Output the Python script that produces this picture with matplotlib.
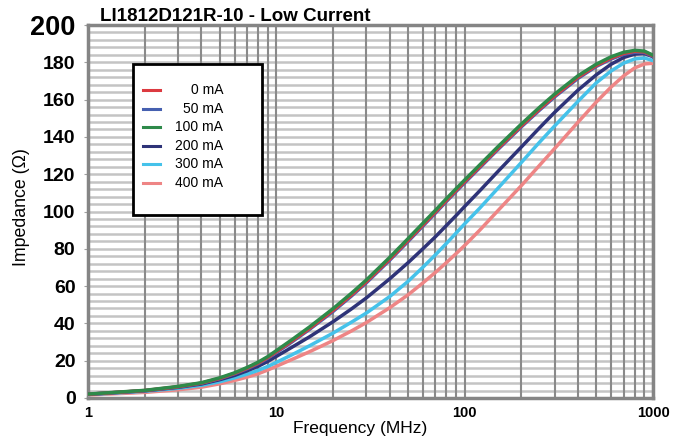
import matplotlib.pyplot as plt
from matplotlib.patches import Rectangle

plt.rcParams['font.family'] = ['Liberation Sans', 'DejaVu Sans']

title = "LI1812D121R-10 - Low Current"

freq = [1, 2, 3, 4, 5, 6, 7, 8, 9, 10, 12, 15, 20, 25, 30, 40, 50, 60, 70, 80, 90,
        100, 120, 150, 200, 250, 300, 400, 500, 600, 700, 800, 900, 1000]

z_0ma = [2.0, 4.0, 6.0, 8.0, 10.5, 13.2, 16.0, 18.7, 21.7, 24.8, 30.3, 37.3, 47.0, 55.2, 62.3, 74.5, 84.5,
         92.8, 99.8, 106.0, 111.3, 116.0, 124.0, 133.8, 146.0, 155.0, 162.0, 172.0, 178.3, 182.3, 184.8,
         185.9, 185.6, 183.5]
z_50ma = [2.0, 3.9, 5.9, 7.9, 10.3, 13.0, 15.7, 18.4, 21.3, 24.4, 29.8, 36.8, 46.4, 54.6, 61.7, 73.9, 83.9,
          92.2, 99.2, 105.4, 110.7, 115.4, 123.4, 133.2, 145.4, 154.4, 161.4, 171.4, 177.8, 181.8, 184.3,
          185.4, 185.2, 183.2]
z_100ma = [2.1, 4.1, 6.2, 8.2, 10.8, 13.5, 16.4, 19.2, 22.2, 25.4, 31.0, 38.1, 47.9, 56.1, 63.2, 75.4, 85.4,
           93.7, 100.7, 106.9, 112.2, 116.9, 124.9, 134.7, 146.9, 155.9, 162.9, 172.8, 179.0, 183.0, 185.4,
           186.4, 186.0, 183.8]
z_200ma = [2.0, 3.9, 5.7, 7.5, 9.8, 12.1, 14.6, 17.0, 19.6, 22.3, 27.0, 32.8, 40.9, 47.7, 53.6, 63.9, 72.5,
           80.0, 86.5, 92.5, 97.8, 102.7, 111.0, 121.4, 134.6, 144.9, 153.1, 165.1, 173.3, 179.0, 182.6,
           184.4, 184.7, 183.0]
z_300ma = [1.8, 3.6, 5.2, 6.8, 8.7, 10.8, 12.8, 14.8, 16.9, 19.1, 23.0, 28.0, 34.8, 40.6, 45.5, 54.4, 62.5,
           70.1, 76.8, 82.9, 88.4, 93.4, 101.7, 112.4, 126.3, 137.2, 145.8, 159.1, 169.0, 175.4, 179.6,
           181.8, 182.3, 180.9]
z_400ma = [1.6, 3.0, 4.4, 5.8, 7.6, 9.4, 11.2, 13.0, 15.0, 17.0, 20.5, 24.8, 30.8, 35.9, 40.4, 48.4, 55.3,
           61.7, 67.4, 72.6, 77.4, 81.8, 89.9, 100.4, 113.9, 124.8, 133.7, 147.9, 158.7, 166.8, 172.8,
           177.0, 179.1, 179.5]

labels = ["0 mA", "50 mA", "100 mA", "200 mA", "300 mA", "400 mA"]
series = [z_0ma, z_50ma, z_100ma, z_200ma, z_300ma, z_400ma]
colors = ["#dc3a40", "#4660b0", "#2e8a4a", "#2e3378", "#45c2ea", "#ee8585"]

y_ticks = list(range(0, 201, 20))
x_ticks = [1, 10, 100, 1000]

fig = plt.figure(figsize=(6.81, 4.42), dpi=100)
ax = fig.add_axes([88 / 681, 44 / 442, 565 / 681, 373 / 442])

ax.set_xscale('log')
ax.set_xlim(1, 1000)
ax.set_ylim(0, 200)

# grid
for y in range(4, 200, 4):
    ax.axhline(y, color='#c4c4c4', lw=1.8, zorder=1)
for dec in [1, 10, 100]:
    for m in range(2, 11):
        ax.axvline(dec * m, color='#8a8a8a', lw=1.5, zorder=1.5)

draw_order = [5, 4, 3, 1, 0, 2]
for i in draw_order:
    ax.plot(freq, series[i], color=colors[i], lw=2.5, zorder=3)

for s in ax.spines.values():
    s.set_color('#858585')
    s.set_linewidth(2.5)

ax.set_xticks(x_ticks)
ax.set_xticklabels([str(t) for t in x_ticks], fontsize=10.5, fontweight='bold')
ax.set_xticks([], minor=True)
ax.set_yticks(y_ticks)
ax.set_yticklabels([str(t) for t in y_ticks], fontsize=14, fontweight='bold')
ax.get_yticklabels()[-1].set_fontsize(19.5)
ax.tick_params(axis='y', length=3, color='#a0a0a0', pad=6)
ax.tick_params(axis='x', length=0, pad=6)

fig.text(100 / 681, 1 - 21 / 442, title, fontsize=13.5, fontweight='bold', va='baseline', ha='left')
fig.text(360 / 681, 1 - 428 / 442, "Frequency (MHz)", fontsize=12.5, ha='center', va='center')
fig.text(22 / 681, 1 - 207 / 442, "Impedance (\u03a9)", fontsize=12.8, rotation=90, ha='center', va='center')

# legend box
ax.add_patch(Rectangle((0.0796, 0.4906), 0.2284, 0.4048, transform=ax.transAxes,
                       facecolor='white', edgecolor='black', lw=2, zorder=5))
for i, lab in enumerate(labels):
    yy = 0.8257 - i * 0.0497
    ax.plot([0.0973, 0.1274], [yy, yy], transform=ax.transAxes, color=colors[i], lw=2.2, zorder=6)
    ax.text(0.239, yy, lab, transform=ax.transAxes, fontsize=10, ha='right', va='center', zorder=6)

fig.savefig('out.png', dpi=100)
